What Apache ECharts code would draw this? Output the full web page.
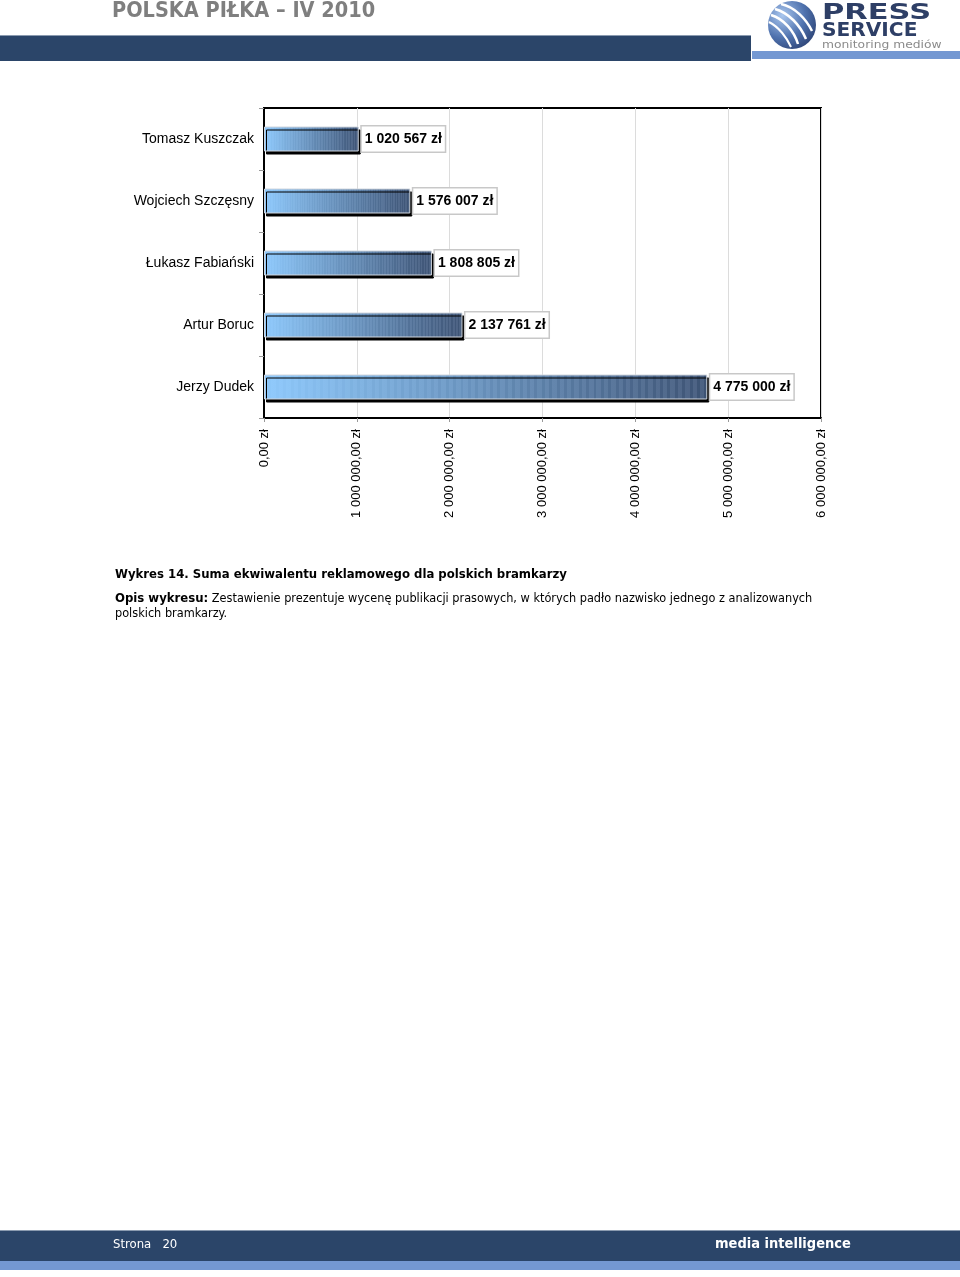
<!DOCTYPE html>
<html><head><meta charset="utf-8">
<script src="https://cdn.jsdelivr.net/npm/echarts@6/dist/echarts.min.js"></script>
<style>html,body{margin:0;padding:0;background:#fff}#c{width:960px;height:1277px}</style>
</head><body><div id="c"></div>
<script>
const categories = ['Tomasz Kuszczak','Wojciech Szczęsny','Łukasz Fabiański','Artur Boruc','Jerzy Dudek'];
const values = [1020567, 1576007, 1808805, 2137761, 4775000];
const axisTicks = [0, 1000000, 2000000, 3000000, 4000000, 5000000, 6000000];

function grp(n, sep){ return String(n).replace(/\B(?=(\d{3})+(?!\d))/g, sep); }

// striped gradient stops for bars
const stops = [];
const c0=[145,203,253], c1=[76,97,130];
const N=60;
for(let i=0;i<N;i++){
  const t=i/N, t2=(i+1)/N;
  const mix=(a,b,u)=>Math.round(a+(b-a)*u);
  const col=u=>`rgb(${mix(c0[0],c1[0],u)},${mix(c0[1],c1[1],u)},${mix(c0[2],c1[2],u)})`;
  const k=Math.round(4+12*t);
  const dark=u=>`rgb(${mix(c0[0],c1[0],u)-k},${mix(c0[1],c1[1],u)-k},${mix(c0[2],c1[2],u)-k})`;
  stops.push({offset:t,color:col(t)});
  stops.push({offset:t+(t2-t)*0.6,color:col(t+(t2-t)*0.6)});
  stops.push({offset:t+(t2-t)*0.6,color:dark(t)});
  stops.push({offset:t2,color:dark(t)});
}

const chart = echarts.init(document.getElementById('c'), null, {renderer:'canvas'});
const navy='#2b4569', strip='#7498d2';
chart.setOption({
  animation:false,
  grid:{left:264,right:139,top:108,bottom:859,show:true,borderColor:'#000',borderWidth:2,backgroundColor:'transparent'},
  xAxis:{type:'value',min:0,max:6000000,interval:1000000,
    axisLine:{show:true,lineStyle:{color:'#000',width:2}},
    axisTick:{show:true,length:4,lineStyle:{color:'#999'}},
    splitLine:{show:true,lineStyle:{color:'#dcdcdc'}},
    axisLabel:{rotate:90,margin:11,fontSize:13,color:'#000',fontFamily:'Liberation Sans, Arial',
      formatter:v=>grp(v,' ')+',00 zł'}},
  yAxis:{type:'category',inverse:true,data:categories,
    axisLine:{show:true,lineStyle:{color:'#000',width:2}},
    axisTick:{show:true,length:5,lineStyle:{color:'#999'}},
    axisLabel:{margin:10,fontSize:14,color:'#000',fontFamily:'Liberation Sans, Arial',padding:[3,0,0,0]}},
  series:[{type:'bar',data:values,barWidth:25,
    itemStyle:{color:{type:'linear',x:0,y:0,x2:1,y2:0,colorStops:stops},
      borderColor:'#d0d6de',borderWidth:1,
      shadowColor:'#000',shadowOffsetX:2,shadowOffsetY:3,shadowBlur:0},
    label:{show:true,position:'right',distance:3,formatter:p=>grp(p.value,' ')+' zł',
      fontSize:14,fontWeight:'bold',color:'#000',fontFamily:'Liberation Sans, Arial',
      backgroundColor:'#fff',borderColor:'#c8c8c8',borderWidth:1.5,padding:[7,3,4,3]}}],
  graphic:[
    {type:'text',left:112,top:0,style:{text:'POLSKA PIŁKA – IV 2010',fill:'#7f7f7f',font:'bold 21.5px "DejaVu Sans Condensed", "DejaVu Sans"'}},
    {type:'rect',shape:{x:0,y:35,width:751,height:26},style:{fill:navy}},
    {type:'rect',shape:{x:0,y:35,width:751,height:1},style:{fill:'#8b9bb0'}},
    {type:'rect',shape:{x:752,y:51,width:208,height:8},style:{fill:strip}},
    // logo
    {type:'circle',shape:{cx:792,cy:25,r:24},style:{fill:{type:'radial',x:0.3,y:0.3,r:0.85,colorStops:[{offset:0,color:'#a9c6ee'},{offset:0.55,color:'#4f72ae'},{offset:1,color:'#2a3f70'}]}}},
    {type:'bezierCurve',shape:{x1:771,y1:15,x2:798,y2:44,cpx1:784,cpy1:19,cpx2:794,cpy2:31},style:{stroke:'#fff',lineWidth:2.5,fill:null}},
    {type:'bezierCurve',shape:{x1:775,y1:9,x2:806,y2:39,cpx1:789,cpy1:13,cpx2:800,cpy2:25},style:{stroke:'#fff',lineWidth:2.5,fill:null}},
    {type:'bezierCurve',shape:{x1:781,y1:4,x2:812,y2:31,cpx1:795,cpy1:7,cpx2:806,cpy2:19},style:{stroke:'#fff',lineWidth:2.5,fill:null}},
    {type:'bezierCurve',shape:{x1:769,y1:22,x2:791,y2:47,cpx1:779,cpy1:27,cpx2:787,cpy2:38},style:{stroke:'#fff',lineWidth:2,fill:null}},
    {type:'text',x:822,y:3,scaleX:1.45,style:{text:'PRESS',fill:'#2e3f66',font:'bold 21px "DejaVu Sans"'}},
    {type:'text',x:822,y:22,scaleX:1.06,style:{text:'SERVICE',fill:'#2e3f66',font:'bold 19px "DejaVu Sans"'}},
    {type:'text',x:822,y:40,scaleX:1.12,style:{text:'monitoring mediów',fill:'#8a8a8a',font:'11px "DejaVu Sans"'}},
    // caption
    {type:'text',left:115,top:568,style:{text:'Wykres 14. Suma ekwiwalentu reklamowego dla polskich bramkarzy',fill:'#000',font:'bold 13px "DejaVu Sans Condensed"'}},
    {type:'text',left:115,top:591,style:{text:'{b|Opis wykresu:} Zestawienie prezentuje wycenę publikacji prasowych, w których padło nazwisko jednego z analizowanych\npolskich bramkarzy.',
      fill:'#000',font:'12.6px "DejaVu Sans Condensed"',lineHeight:15,rich:{b:{fontWeight:'bold',fontFamily:'DejaVu Sans Condensed',fontSize:13}}}},
    // footer
    {type:'rect',shape:{x:0,y:1230,width:960,height:31},style:{fill:navy}},
    {type:'rect',shape:{x:0,y:1230,width:960,height:1},style:{fill:'#8b9bb0'}},
    {type:'rect',shape:{x:0,y:1261,width:960,height:9},style:{fill:strip}},
    {type:'text',left:113,top:1238,style:{text:'Strona   20',fill:'#fff',font:'13px "DejaVu Sans Condensed"'}},
    {type:'text',left:715,top:1237,style:{text:'media intelligence',fill:'#fff',font:'bold 14.5px "DejaVu Sans Condensed"'}}
  ]
});
</script></body></html>
